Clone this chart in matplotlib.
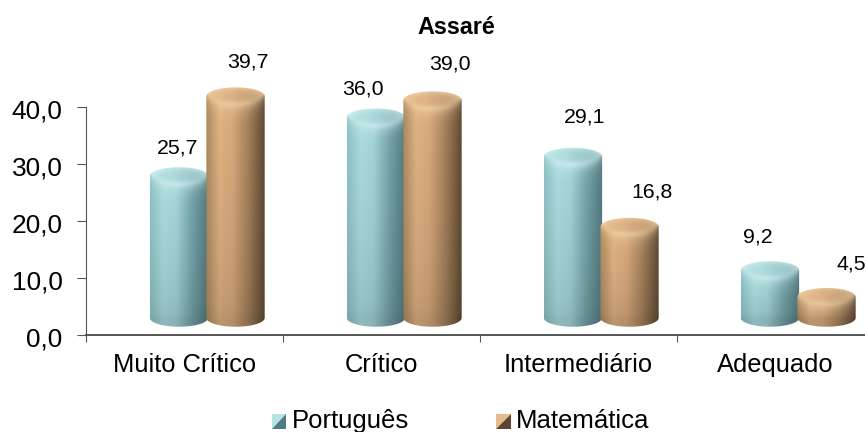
import numpy as np
import matplotlib
matplotlib.use("Agg")
import matplotlib.pyplot as plt
from matplotlib.legend_handler import HandlerBase
from matplotlib.patches import PathPatch, Polygon
from matplotlib.path import Path
from matplotlib.transforms import ScaledTranslation

plt.rcParams["font.family"] = ["Liberation Sans", "DejaVu Sans"]

categorias = ["Muito Crítico", "Crítico", "Intermediário", "Adequado"]
portugues = [25.7, 36.0, 29.1, 9.2]
matematica = [39.7, 39.0, 16.8, 4.5]
y_ticks = [0, 10, 20, 30, 40]

# decalages manuels des etiquettes (px), comme dans l'original
off_port = [(-1, 19), (-13, 19), (12, 31), (-12, 24)]
off_mat = [(12, 25), (17, 27), (22, 26), (25, 24)]

L, R, Y0, YPX = 86, 865, 335, 5.7
CATPX = 197.0
PROF = 2.2      # hauteur ajoutee par la perspective
BASE = 3.0
DEMI_H = 1.55   # demi-hauteur de l'ellipse
LARG = 0.148    # demi-largeur du cylindre


def couleur_h(u, stops):
    pos = [-1, -0.55, -0.1, 0.45, 1]
    return np.stack([np.interp(u, pos, [s[c] for s in stops]) for c in range(3)], axis=-1)


def hexa(c):
    return np.array(matplotlib.colors.to_rgb(c))


def cylindre(ax, xc, valeur, stops, clair):
    haut = valeur + PROF
    xs = np.linspace(xc - LARG, xc + LARG, 90)
    ys = np.linspace(BASE - DEMI_H - 0.2, haut + DEMI_H + 0.2, 260)
    X, Y = np.meshgrid(xs, ys)
    u = np.clip((X - xc) / LARG, -1, 1)
    img = couleur_h(u, stops)

    rim = haut - DEMI_H * np.sqrt(1 - u ** 2)
    d = np.clip(rim - Y, 0, None)
    # reflet sous le bord
    reflet = 0.6 * np.exp(-d / 1.0) * (1 - 0.6 * u ** 2)
    img = img + (clair - img) * reflet[..., None]
    # plus sombre vers le bas
    bas = np.clip((Y - BASE) / max(haut - BASE, 1), 0, 1)
    img = img * (0.84 + 0.16 * bas ** 0.5)[..., None]
    # dessus du cylindre, plus clair, bord fondu
    r = np.sqrt(u ** 2 + ((Y - haut) / DEMI_H) ** 2)
    base_cap = couleur_h(u * 0.4, stops)
    cap = base_cap + (clair - base_cap) * (0.2 + 0.45 * np.clip(r, 0, 1) ** 3)[..., None]
    melange = np.clip((Y - rim) / 0.9, 0, 1)[..., None]
    img = np.clip(img * (1 - melange) + cap * melange, 0, 1)

    im = ax.imshow(img, origin="lower", aspect="auto", interpolation="bilinear",
                   extent=(xs[0], xs[-1], ys[0], ys[-1]), zorder=3)
    t = np.linspace(np.pi, 0, 40)
    haut_x, haut_y = xc + LARG * np.cos(t), haut + DEMI_H * np.sin(t)
    t2 = np.linspace(0, -np.pi, 40)
    bas_x, bas_y = xc + LARG * np.cos(t2), BASE + DEMI_H * np.sin(t2)
    pts = np.vstack([np.column_stack([haut_x, haut_y]), np.column_stack([bas_x, bas_y])])
    patch = PathPatch(Path(np.vstack([pts, pts[0]])), transform=ax.transData,
                      fc="none", ec="none")
    ax.add_patch(patch)
    im.set_clip_path(patch)


class HandlerDiag(HandlerBase):
    def create_artists(self, legend, orig, xd, yd, w, h, fontsize, trans):
        c1, c2 = orig.cores
        s = 10.5
        x0 = w - s
        y0 = -yd - 0.5
        a = Polygon([[x0, y0], [x0 + s, y0], [x0 + s, y0 + s]], fc=c2, ec="none", transform=trans)
        b = Polygon([[x0, y0], [x0, y0 + s], [x0 + s, y0 + s]], fc=c1, ec="none", transform=trans)
        return [b, a]


fig = plt.figure(figsize=(8.65, 4.32), dpi=100)
ax = fig.add_axes([L / 865, (432 - Y0) / 432, (R - L) / 865, Y0 / 432])
ax.patch.set_alpha(0)

azul = [hexa(c) for c in ("#8ec2c6", "#aadcde", "#a2d4d6", "#74a2a8", "#527a80")]
marrom = [hexa(c) for c in ("#ae8a60", "#e0b384", "#d8a97c", "#a4805a", "#604a34")]

for i in range(len(categorias)):
    cylindre(ax, i + 0.472, portugues[i], azul, hexa("#dcf6f6"))
    cylindre(ax, i + 0.759, matematica[i], marrom, hexa("#f8dcb0"))
    for xc, v, off in ((i + 0.472, portugues[i], off_port[i]), (i + 0.759, matematica[i], off_mat[i])):
        ax.annotate(f"{v:.1f}".replace(".", ","), (xc, v + PROF + DEMI_H), xytext=off,
                    textcoords="offset pixels", ha="center", va="center",
                    fontsize=15.3, color="black", zorder=5, annotation_clip=False)

ax.set_xlim(0, (R - L) / CATPX)
ax.set_ylim(0, Y0 / YPX)

for s in ("top", "right"):
    ax.spines[s].set_visible(False)
ax.spines["left"].set_bounds(0, 40)
ax.spines["left"].set_color("#555555")
ax.spines["bottom"].set_color("#555555")
ax.spines["bottom"].set_linewidth(1.4)

ax.set_yticks(y_ticks)
ax.set_yticklabels([f"{v:.1f}".replace(".", ",") for v in y_ticks], fontsize=18.9)
ax.tick_params(axis="y", length=6.5, width=0.8, color="#555555", pad=10.5)
# les etiquettes y sont un peu sous les graduations
for lab in ax.get_yticklabels():
    lab.set_transform(lab.get_transform() + ScaledTranslation(0, -1.5 / 72, fig.dpi_scale_trans))
ax.set_xticks([i + 0.5 for i in range(4)])
ax.set_xticklabels(categorias, fontsize=18.4)
ax.tick_params(axis="x", which="major", length=0, pad=13)
ax.set_xticks(range(4), minor=True)
ax.tick_params(axis="x", which="minor", length=5, width=0.8, color="#555555")

fig.text(456 / 865, 1 - 27 / 432, "Assaré", ha="center", va="center", fontsize=16.8, fontweight="bold")

h1 = plt.Rectangle((0, 0), 1, 1)
h1.cores = ("#b4e4e4", "#4f7b82")
h2 = plt.Rectangle((0, 0), 1, 1)
h2.cores = ("#e6bb8c", "#5c4630")
fig.legend([h1, h2], ["Português", "Matemática"], loc="center", ncol=2,
           bbox_to_anchor=(460.5 / 865, 1 - 421 / 432), frameon=False, fontsize=18.5,
           handler_map={h1: HandlerDiag(), h2: HandlerDiag()},
           handlelength=0.57, handletextpad=0.2, columnspacing=3.4)

fig.savefig("out.png", dpi=100)
